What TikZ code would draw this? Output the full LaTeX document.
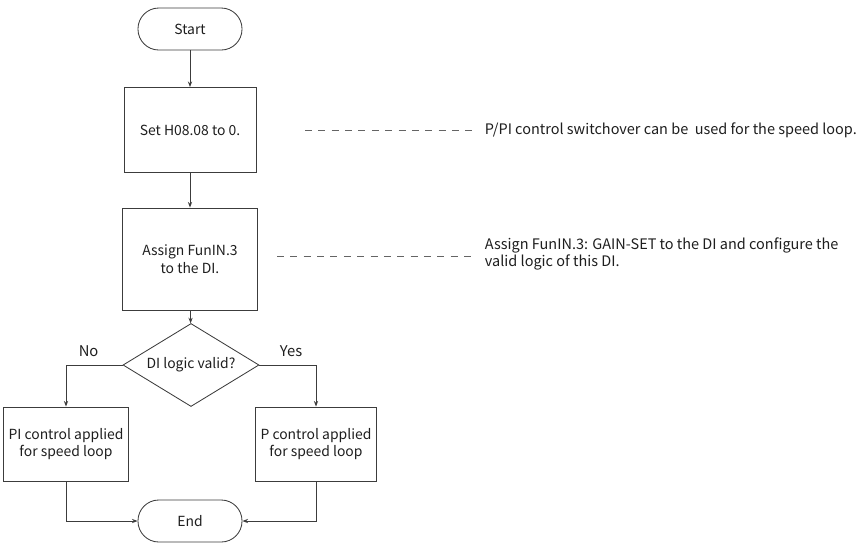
\documentclass[tikz,border=0pt]{standalone}
\usepackage{fontspec}
\setmainfont{Noto Sans CJK SC}
\usetikzlibrary{shapes.geometric,arrows.meta,positioning}
\tikzset{every node/.append style={align=center}}
\definecolor{linecolor}{RGB}{60, 60, 60}
\definecolor{notecolor}{RGB}{100, 100, 100}
\definecolor{textcolor}{RGB}{30, 30, 30}

\begin{document}
\begin{tikzpicture}[x=0.025cm, y=-0.025cm, font=\fontsize{9.9}{12.4}\selectfont,
    flow/.style={-{Stealth[length=4pt, width=3pt]}, linecolor, line width=0.6pt},
    note/.style={notecolor, line width=0.6pt, dash pattern=on 5pt off 4.5pt, shorten >=4.5pt},
    notetext/.style={anchor=west, align=left, text=textcolor, font=\fontsize{10.3}{12.6}\selectfont},
    procbox/.style={draw, linecolor, line width=0.6pt, rectangle, text=textcolor},
    termbox/.style={draw, linecolor, line width=0.6pt, rectangle, rounded corners=0.52cm, minimum width=2.6cm, minimum height=1.05cm, text=textcolor},
    decbox/.style={draw, linecolor, line width=0.6pt, diamond, aspect=1.64, minimum width=3.4cm, minimum height=2.075cm, inner sep=0pt, text=textcolor},
    branchlabel/.style={above=2pt, text=textcolor, font=\fontsize{10.5}{12}\selectfont}]
        \useasboundingbox (0,0) rectangle (864,542);

        % Main column
        \node[termbox] (start) at (190,29) {Start};
        \node[procbox, minimum width=3.3cm, minimum height=2.125cm] (sethd) at (190,130) {Set H08.08 to 0.};
        \node[procbox, minimum width=3.375cm, minimum height=2.55cm] (assign) at (190,259) {Assign FunIN.3\\to the DI.};
        \node[decbox] (check) at (191,365) {};
        \node[text=textcolor] (checktext) at (191,365) {DI logic valid?};

        % Branches
        \node[procbox, minimum width=3cm, minimum height=1.85cm] (piloop) at (66,444) {PI control applied\\for speed loop};
        \node[procbox, minimum width=3cm, minimum height=1.85cm] (ploop) at (316,444) {P control applied\\for speed loop};
        \node[termbox] (finish) at (190,521) {End};

        % Notes
        \node[notetext] (note1) at (480,130) {P/PI control switchover can be\ \ used for the speed loop.};
        \node[notetext] (note2) at (480,254) {Assign FunIN.3: GAIN-SET to the DI and configure the\\valid logic of this DI.};
        \coordinate (n1) at (305,130);
        \coordinate (n2) at (277,256);
        \draw[note] (n1) -- (note1.west);
        \draw[note] (n2) -- (n2 -| note2.west);

        % Flow lines
        \draw[flow] (start) -- (sethd);
        \draw[flow] (sethd) -- (assign);
        \draw[flow] (assign) -- (check);
        \draw[flow] (check.west) -| (piloop.north) node[pos=0.3, branchlabel] (nolabel) {No};
        \draw[flow] (check.east) -| (ploop.north) node[pos=0.28, branchlabel] (yeslabel) {Yes};
        \draw[flow] (piloop.south) |- (finish.west);
        \draw[flow] (ploop.south) |- (finish.east);
    \end{tikzpicture}
\end{document}
